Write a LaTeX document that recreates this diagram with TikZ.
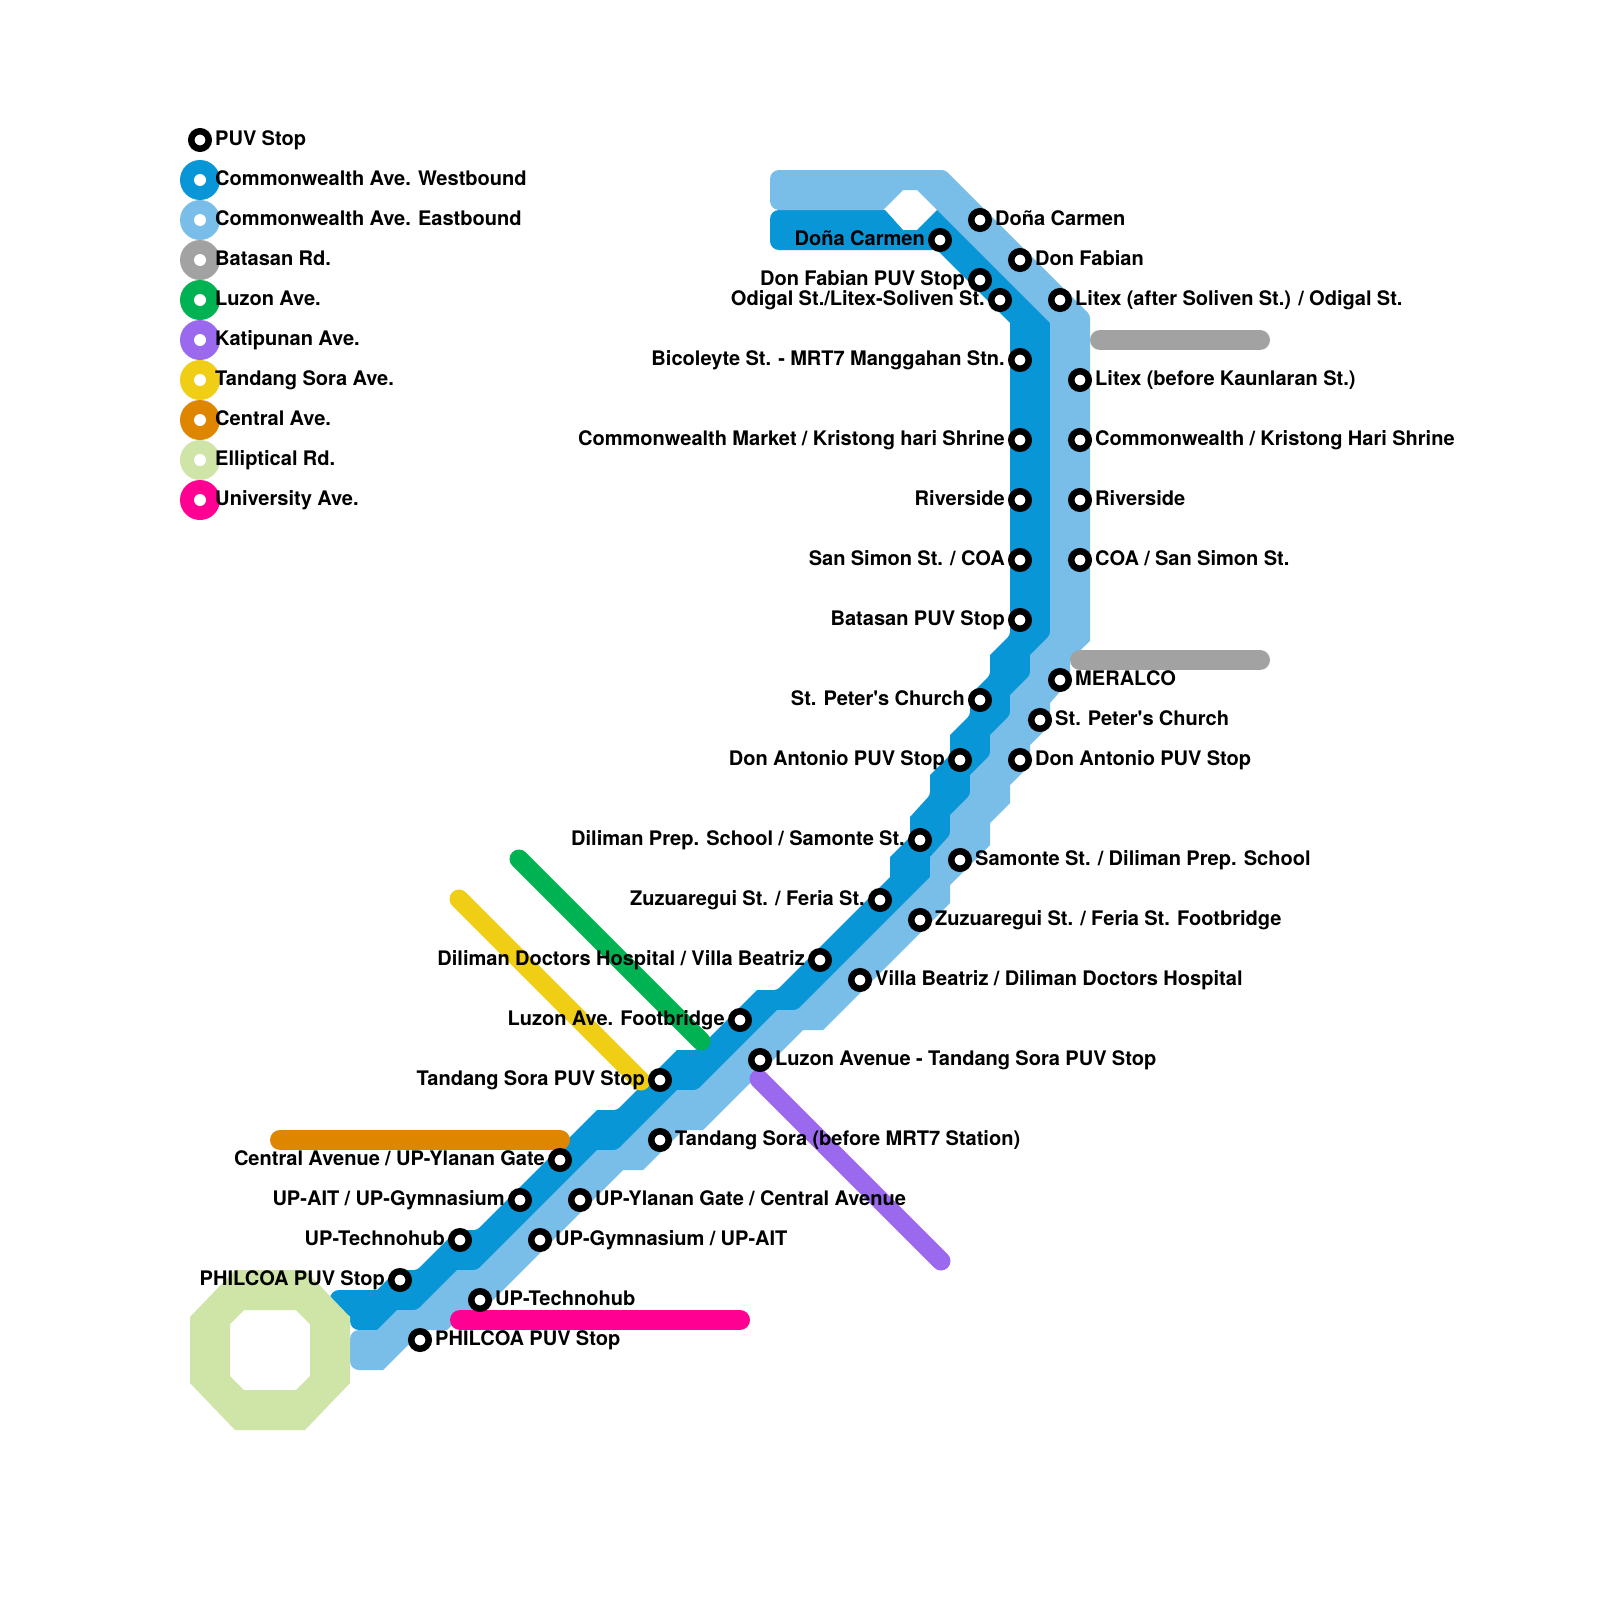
\documentclass[tikz,border=0pt]{standalone}
\usepackage{fontspec}
\newfontfamily\lblfont[WordSpace=0.95]{TeX Gyre Heros}
\definecolor{cwest}{HTML}{0896D7}
\definecolor{ceast}{HTML}{79BDE9}
\definecolor{cbat}{HTML}{A2A2A2}
\definecolor{cluz}{HTML}{00B251}
\definecolor{ckat}{HTML}{9B69ED}
\definecolor{ctan}{HTML}{F0CE15}
\definecolor{ccen}{HTML}{DF8600}
\definecolor{cell}{HTML}{CFE4A7}
\definecolor{cuni}{HTML}{FF0092}
\tikzset{
  rr/.style={rounded corners=3pt},
  ss/.style={sharp corners},
  re/.style={rounded corners=9pt},
  puv/.style={circle,draw=black,line width=6.5pt,fill=white,minimum size=17.5pt,inner sep=0pt},
  lbl/.style={inner sep=0pt,font=\lblfont\bfseries\fontsize{20.05}{24}\selectfont,text=black},
  lblL/.style={lbl,anchor=base east},
  lblR/.style={lbl,anchor=base west},
  legdot/.style={circle,fill=#1,minimum size=40pt,inner sep=0pt},
  legcore/.style={circle,fill=white,minimum size=12pt,inner sep=0pt},
  hline/.style={line width=20pt,line cap=round,draw=#1},
  dline/.style={line width=19pt,line cap=round,draw=#1},
}
\newcommand{\stopL}[4]{\node[lblL] (t#1) at (#2-15,#3+5) {#4};\node[puv] (#1) at (#2,#3) {};}
\newcommand{\stopR}[4]{\node[lblR] (t#1) at (#2+15,#3+5) {#4};\node[puv] (#1) at (#2,#3) {};}
\newcommand{\legendrow}[3]{\node[legdot=#1] (d#3) at (200,#2) {};\node[legcore] (c#3) at (200,#2) {};}
\newcommand{\legendtext}[3]{\node[lblR] (x#3) at (215,#1+5) {#2};}
\begin{document}
\begin{tikzpicture}[x=1pt,y=-1pt]
\useasboundingbox (0,0) rectangle (1600,1600);
\fill[white] (0,0) rectangle (1600,1600);
% Westbound
\fill[cwest] (770,232) [re] -- (770,210) [ss] -- (885,210) -- (903,230) -- (917,230) -- (937,210) -- (945,210) -- (1056,321)
 -- (1056,641) -- (1036,661) -- (1036,681) -- (1016,701) -- (1016,721) -- (996,741) -- (996,761) -- (976,781) -- (976,801)
 -- (956,821) -- (956,841) -- (936,863) -- (936,883) -- (803,1016) -- (783,1016) -- (703,1096) -- (683,1096) -- (623,1156)
 -- (603,1156) -- (483,1276) -- (463,1276) -- (423,1316) -- (403,1316) -- (383,1336) -- (377,1336) -- (377,1330) [re] -- (350,1330) [ss] -- (350,1316)
 -- (330,1316) [re] -- (330,1290) [ss] -- (377,1290) -- (397,1270) [rr] -- (417,1270) [ss] -- (457,1230) [rr] -- (477,1230) [ss]
 -- (597,1110) [rr] -- (617,1110) [ss] -- (677,1050) [rr] -- (697,1050) [ss] -- (757,990) [rr] -- (777,990) [ss]
 -- (890,877) -- (890,857) [rr] -- (910,837) [ss] -- (910,817) [rr] -- (930,795) [ss] -- (930,775) [rr] -- (950,755) [ss]
 -- (950,735) [rr] -- (970,715) [ss] -- (970,695) [rr] -- (990,675) [ss] -- (990,655) [rr] -- (1010,635) [ss]
 -- (1010,323) -- (937,250) [re] -- (770,250) -- cycle;
% Eastbound
\fill[ceast] (770,190) [re] -- (770,170) [rr] -- (945,170) -- (1090,315) [ss] -- (1090,641) -- (1070,660) -- (1070,680) -- (1050,703) -- (1050,725)
 -- (1030,745) -- (1030,765) -- (1010,785) -- (1010,803) -- (990,823) -- (990,845) -- (950,885) -- (950,903) -- (823,1030) -- (803,1030)
 -- (703,1130) -- (683,1130) -- (643,1170) -- (623,1170) -- (503,1290) -- (483,1310) -- (467,1310) -- (447,1330) -- (423,1330)
 -- (383,1370) [re] -- (350,1370) -- (350,1330) [ss] -- (377,1330) -- (397,1310) [rr] -- (417,1310) [ss] -- (457,1270) [rr] -- (477,1270) [ss]
 -- (597,1150) [rr] -- (617,1150) [ss] -- (677,1090) [rr] -- (697,1090) [ss] -- (777,1010) [rr] -- (797,1010) [ss]
 -- (930,877) -- (930,857) [rr] -- (950,835) [ss] -- (950,815) [rr] -- (970,795) [ss] -- (970,775) [rr] -- (990,755) [ss]
 -- (990,735) [rr] -- (1010,715) [ss] -- (1010,695) [rr] -- (1030,675) [ss] -- (1030,655) [rr] -- (1050,635) [ss]
 -- (1050,323) -- (917,190) -- (903,190) -- (883,210) [re] -- (770,210) -- cycle;
% Elliptical Rd.
\fill[cell,even odd rule] (235,1270) -- (305,1270) -- (350,1317) -- (350,1383) -- (305,1430) -- (235,1430) -- (190,1383) -- (190,1317) -- cycle
 (244,1310) -- (296,1310) -- (310,1324) -- (310,1376) -- (296,1390) -- (244,1390) -- (230,1376) -- (230,1324) -- cycle;
% Other roads
\coordinate (bat1a) at (1100,340); \coordinate (bat1b) at (1260,340);
\coordinate (bat2a) at (1080,660); \coordinate (bat2b) at (1260,660);
\coordinate (cena) at (280,1140); \coordinate (cenb) at (560,1140);
\coordinate (unia) at (460,1320); \coordinate (unib) at (740,1320);
\coordinate (luza) at (519,859); \coordinate (luzb) at (701,1041);
\coordinate (tana) at (459,899); \coordinate (tanb) at (641,1081);
\coordinate (kata) at (759,1079); \coordinate (katb) at (941,1261);
\draw[hline=cbat] (bat1a) -- (bat1b);
\draw[hline=cbat] (bat2a) -- (bat2b);
\draw[hline=ccen] (cena) -- (cenb);
\draw[hline=cuni] (unia) -- (unib);
\draw[dline=cluz] (luza) -- (luzb);
\draw[dline=ctan] (tana) -- (tanb);
\draw[dline=ckat] (kata) -- (katb);
% Legend
\node[puv] (legpuv) at (200,140) {};
\legendrow{cwest}{180}{a}
\legendrow{ceast}{220}{b}
\legendrow{cbat}{260}{c}
\legendrow{cluz}{300}{d}
\legendrow{ckat}{340}{e}
\legendrow{ctan}{380}{f}
\legendrow{ccen}{420}{g}
\legendrow{cell}{460}{h}
\legendrow{cuni}{500}{i}
\legendtext{141}{PUV Stop}{z}
\legendtext{180}{Commonwealth Ave. Westbound}{a}
\legendtext{220}{Commonwealth Ave. Eastbound}{b}
\legendtext{260}{Batasan Rd.}{c}
\legendtext{300}{Luzon Ave.}{d}
\legendtext{340}{Katipunan Ave.}{e}
\legendtext{380}{Tandang Sora Ave.}{f}
\legendtext{420}{Central Ave.}{g}
\legendtext{460}{Elliptical Rd.}{h}
\legendtext{500}{University Ave.}{i}
% Westbound stops
\stopL{w1}{940}{240}{Doña Carmen}
\stopL{w2}{980}{280}{Don Fabian PUV Stop}
\stopL{w3}{1000}{300}{Odigal St./Litex-Soliven St.}
\stopL{w4}{1020}{360}{Bicoleyte St. - MRT7 Manggahan Stn.}
\stopL{w5}{1020}{440}{Commonwealth Market / Kristong hari Shrine}
\stopL{w6}{1020}{500}{Riverside}
\stopL{w7}{1020}{560}{San Simon St. / COA}
\stopL{w8}{1020}{620}{Batasan PUV Stop}
\stopL{w9}{980}{700}{St. Peter's Church}
\stopL{w10}{960}{760}{Don Antonio PUV Stop}
\stopL{w11}{920}{840}{Diliman Prep. School / Samonte St.}
\stopL{w12}{880}{900}{Zuzuaregui St. / Feria St.}
\stopL{w13}{820}{960}{Diliman Doctors Hospital / Villa Beatriz}
\stopL{w14}{740}{1020}{Luzon Ave. Footbridge}
\stopL{w15}{660}{1080}{Tandang Sora PUV Stop}
\stopL{w16}{560}{1160}{Central Avenue / UP-Ylanan Gate}
\stopL{w17}{520}{1200}{UP-AIT / UP-Gymnasium}
\stopL{w18}{460}{1240}{UP-Technohub}
\stopL{w19}{400}{1280}{PHILCOA PUV Stop}
% Eastbound stops
\stopR{e1}{980}{220}{Doña Carmen}
\stopR{e2}{1020}{260}{Don Fabian}
\stopR{e3}{1060}{300}{Litex (after Soliven St.) / Odigal St.}
\stopR{e4}{1080}{380}{Litex (before Kaunlaran St.)}
\stopR{e5}{1080}{440}{Commonwealth / Kristong Hari Shrine}
\stopR{e6}{1080}{500}{Riverside}
\stopR{e7}{1080}{560}{COA / San Simon St.}
\stopR{e8}{1060}{680}{MERALCO}
\stopR{e9}{1040}{720}{St. Peter's Church}
\stopR{e10}{1020}{760}{Don Antonio PUV Stop}
\stopR{e11}{960}{860}{Samonte St. / Diliman Prep. School}
\stopR{e12}{920}{920}{Zuzuaregui St. / Feria St. Footbridge}
\stopR{e13}{860}{980}{Villa Beatriz / Diliman Doctors Hospital}
\stopR{e14}{760}{1060}{Luzon Avenue - Tandang Sora PUV Stop}
\stopR{e15}{660}{1140}{Tandang Sora (before MRT7 Station)}
\stopR{e16}{580}{1200}{UP-Ylanan Gate / Central Avenue}
\stopR{e17}{540}{1240}{UP-Gymnasium / UP-AIT}
\stopR{e18}{480}{1300}{UP-Technohub}
\stopR{e19}{420}{1340}{PHILCOA PUV Stop}
\end{tikzpicture}
\end{document}
